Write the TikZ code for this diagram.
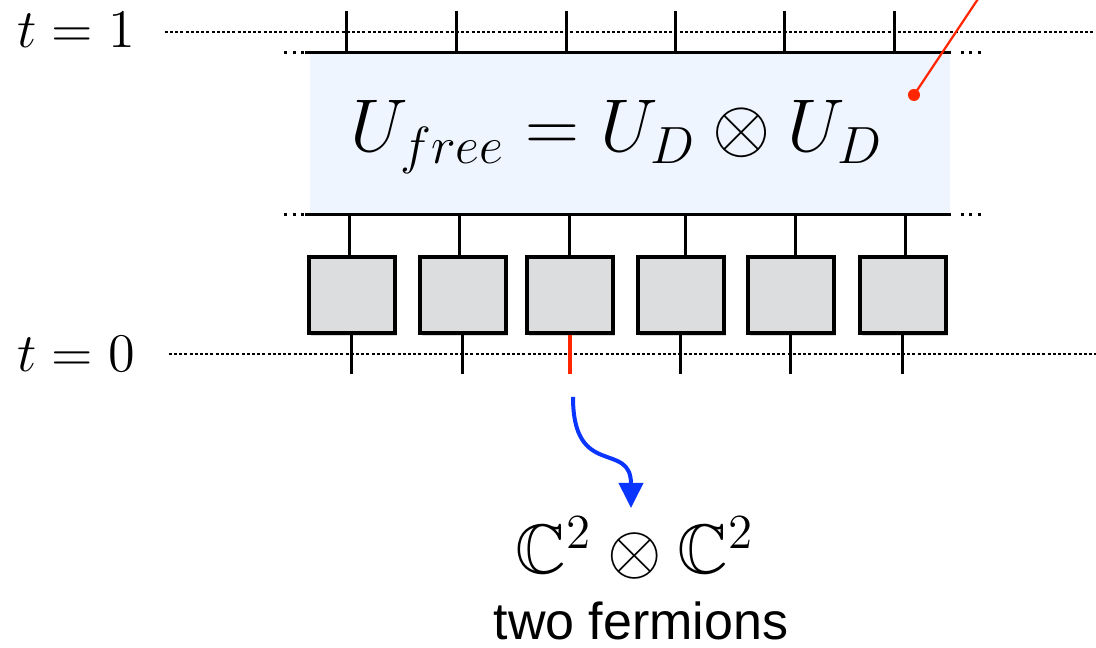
\documentclass[tikz,border=0pt]{standalone}
\usepackage{fix-cm}
\usepackage{amsmath,amssymb}
\usepackage{fontspec}
\newfontfamily\captionfont{Liberation Sans}
\usetikzlibrary{arrows.meta,positioning,shadows}

\definecolor{blockfill}{RGB}{239,245,254}
\definecolor{gatefill}{RGB}{220,221,223}
\definecolor{markred}{RGB}{255,38,0}
\definecolor{flowblue}{RGB}{10,52,255}

\begin{document}
\begin{tikzpicture}[
  x=0.25pt, y=-0.25pt,
  wire/.style={line width=0.75pt},
  redwire/.style={line width=1pt, markred},
  timeline/.style={line width=0.3pt, dash pattern=on 0.75pt off 0.55pt},
  ellipsis/.style={line width=0.75pt, dash pattern=on 0.75pt off 1.4pt},
  block/.style={fill=blockfill, minimum width=160pt, minimum height=40.25pt, inner sep=0},
  gate/.style={draw, line width=0.9pt, fill=gatefill, minimum width=21.5pt, minimum height=19pt, inner sep=0,
    drop shadow={shadow xshift=0.4pt, shadow yshift=-0.8pt, opacity=0.3}},
  timelabel/.style={font=\fontsize{13.6}{16}\selectfont},
  >={Triangle[length=6.25pt, width=6pt]}
]
\useasboundingbox (0,0) rectangle (1096,648);

% time slices
\node[timelabel] (t1) at (76,30) {$t=1$};
\node[timelabel] (t0) at (76,354) {$t=0$};
\coordinate (rim1) at (1096,32);
\coordinate (rim0) at (1096,354);
\draw[timeline] ([xshift=4pt]t1.east |- rim1) -- (rim1);
\draw[timeline] ([xshift=5pt]t0.east |- rim0) -- (rim0);

% free evolution block
\node[block] (free) at (630,133.5) {};
\node[font=\fontsize{18.7}{22}\selectfont] (ufree) at (617,137) {$U_{free} = U_D \otimes U_D$};
\draw[wire] ([xshift=-1pt]free.north west) -- (free.north east);
\draw[wire] ([xshift=-1pt]free.south west) -- (free.south east);
\draw[ellipsis] ([xshift=-6.25pt]free.north west) -- ([xshift=-1.2pt]free.north west);
\draw[ellipsis] ([xshift=2.5pt]free.north east) -- ([xshift=7.55pt]free.north east);
\draw[ellipsis] ([xshift=-6.25pt]free.south west) -- ([xshift=-1.2pt]free.south west);
\draw[ellipsis] ([xshift=2.5pt]free.south east) -- ([xshift=7.55pt]free.south east);

% single site gates
\node[gate] (g1) at (352,295) {};
\node[gate] (g2) at (463,295) {};
\node[gate] (g3) at (570,295) {};
\node[gate] (g4) at (681,295) {};
\node[gate] (g5) at (791,295) {};
\node[gate] (g6) at (903,295) {};

% legs above the block
\draw[wire] ([xshift=-1.25pt]g1.north |- free.north) -- ++(0,-41);
\draw[wire] ([xshift=-1.5pt]g2.north |- free.north) -- ++(0,-41);
\draw[wire] ([xshift=-0.75pt]g3.north |- free.north) -- ++(0,-41);
\draw[wire] ([xshift=-1.25pt]g4.north |- free.north) -- ++(0,-41);
\draw[wire] ([xshift=-1.5pt]g5.north |- free.north) -- ++(0,-41);
\draw[wire] ([xshift=-2pt]g6.north |- free.north) -- ++(0,-41);

% legs between block and gates
\draw[wire] ([xshift=-0.5pt]g1.north) -- ([xshift=-0.5pt]g1.north |- free.south);
\draw[wire] ([xshift=-0.75pt]g2.north) -- ([xshift=-0.75pt]g2.north |- free.south);
\draw[wire] (g3.north) -- (g3.north |- free.south);
\draw[wire] ([xshift=1.25pt]g4.north) -- ([xshift=1.25pt]g4.north |- free.south);
\draw[wire] ([xshift=1.25pt]g5.north) -- ([xshift=1.25pt]g5.north |- free.south);
\draw[wire] ([xshift=0.75pt]g6.north) -- ([xshift=0.75pt]g6.north |- free.south);

% legs below the gates
\draw[wire] (g1.south) -- ++(0,39);
\draw[wire] (g2.south) -- ++(0,39);
\draw[redwire] (g3.south) -- ++(0,39);
\draw[wire] (g4.south) -- ++(0,39);
\draw[wire] (g5.south) -- ++(0,39);
\draw[wire] (g6.south) -- ++(0,39);

% marker pointing out of the picture
\node[circle, fill=markred, inner sep=0, minimum size=3pt] (mark) at (914,95) {};
\coordinate (markend) at (984,-10);
\draw[line width=0.55pt, markred] (mark.center) -- (markend);

% local Hilbert space
\coordinate (src) at (573,397);
\node[font=\fontsize{17.5}{21}\selectfont, anchor=north, inner sep=2pt] (space) at (635,508) {$\mathbb{C}^2 \otimes \mathbb{C}^2$};
\node[font=\captionfont\fontsize{13}{16}\selectfont, anchor=base, inner sep=0] (caption) at (641,640) {two fermions};
\draw[->, line width=1pt, flowblue] (src) .. controls (573,480) and (631,440) .. ([xshift=-1pt]space.north);
\end{tikzpicture}
\end{document}
